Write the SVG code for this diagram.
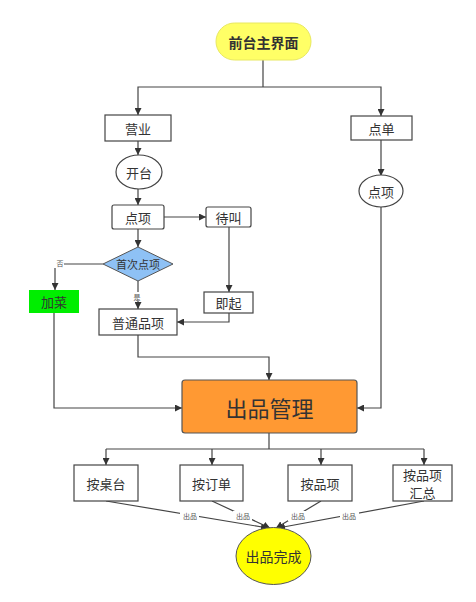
<svg xmlns="http://www.w3.org/2000/svg" width="476" height="602" viewBox="0 0 476 602">
<defs>
<marker id="arr" viewBox="0 0 10 10" refX="10" refY="5" markerWidth="7" markerHeight="7" orient="auto" markerUnits="userSpaceOnUse"><path d="M0,0 L10,5 L0,10 z" fill="#333"/></marker>
<style>
.box{fill:#fff;stroke:#444;stroke-width:1.2}
.t{font-family:"Noto Sans CJK SC","Noto Sans CJK JP",sans-serif;font-size:13px;fill:#333;text-anchor:middle;dominant-baseline:central}
.s{font-family:"Noto Sans CJK SC",sans-serif;font-size:7px;fill:#555;text-anchor:middle;dominant-baseline:central}
.c{fill:none;stroke:#444;stroke-width:1.2;marker-end:url(#arr)}
.n{fill:none;stroke:#444;stroke-width:1.2}
</style>
</defs>
<rect width="476" height="602" fill="#fff"/>
<g id="connectors">
<path class="n" d="M263,60 V87"/>
<path class="c" d="M263,87 H138 V115"/>
<path class="c" d="M263,87 H381 V116"/>
<path class="c" d="M138,141 V155"/>
<path class="c" d="M138,189 V205"/>
<path class="c" d="M164,217 H206"/>
<path class="c" d="M138,229 V247"/>
<path class="c" d="M103,264 H55 V290"/>
<path class="c" d="M138,281 V309"/>
<path class="c" d="M229,227 V292"/>
<path class="c" d="M229,313 V322 H177"/>
<path class="c" d="M381,140 V176"/>
<path class="c" d="M381,207 V408 H357"/>
<path class="c" d="M54,313 V408 H182"/>
<path class="c" d="M138,335 V357 H269 V380"/>
<path class="n" d="M269,433 V449"/>
<path class="n" d="M106,449 H424"/>
<path class="c" d="M106,449 V465"/>
<path class="c" d="M212,449 V465"/>
<path class="c" d="M321,449 V465"/>
<path class="c" d="M424,449 V465"/>
<path class="c" d="M106,501 L268,528"/>
<path class="c" d="M212,501 L270,528"/>
<path class="c" d="M321,501 L276,528"/>
<path class="c" d="M424,501 L278,528"/>
<rect x="54" y="259" width="10" height="9" fill="#fff"/>
<text class="s" x="60" y="263">否</text>
<rect x="132" y="292" width="10" height="9" fill="#fff"/>
<text class="s" x="137" y="297">是</text>
<g fill="#fff">
<rect x="180" y="511" width="19" height="10"/>
<rect x="233" y="511" width="19" height="10"/>
<rect x="288" y="511" width="19" height="10"/>
<rect x="340" y="511" width="19" height="10"/>
</g>
<text class="s" x="190" y="516">出品</text>
<text class="s" x="243" y="516">出品</text>
<text class="s" x="298" y="516">出品</text>
<text class="s" x="349" y="516">出品</text>
</g>
<g id="main"><rect x="216" y="23" width="95" height="37" rx="18.5" fill="#ffff66" stroke="#e8e860" stroke-width="1"/><text class="t" x="263.5" y="41.5" style="font-size:14px;font-weight:bold">前台主界面</text></g>
<g id="yingye"><rect class="box" x="105" y="115" width="66" height="26"/><text class="t" x="138" y="128">营业</text></g>
<g id="kaitai"><ellipse class="box" cx="139" cy="172" rx="23" ry="17"/><text class="t" x="139" y="172">开台</text></g>
<g id="dianxiang"><rect class="box" x="112" y="205" width="52" height="24" rx="2"/><text class="t" x="138" y="217">点项</text></g>
<g id="daijiao"><rect class="box" x="206" y="207" width="45" height="20" rx="2"/><text class="t" x="228.5" y="217">待叫</text></g>
<g id="shouci"><path d="M138,247 L173,264 L138,281 L103,264 Z" fill="#8ec1f5" stroke="#555" stroke-width="1"/><text class="t" x="138" y="264" style="font-size:11px">首次点项</text></g>
<g id="jiacai"><rect x="29" y="290" width="50" height="23" fill="#00ee00"/><text class="t" x="54" y="301.5">加菜</text></g>
<g id="jiqi"><rect class="box" x="204" y="292" width="49" height="21"/><text class="t" x="228.5" y="302.5">即起</text></g>
<g id="putong"><rect class="box" x="99" y="309" width="78" height="26"/><text class="t" x="138" y="322">普通品项</text></g>
<g id="diandan"><rect class="box" x="351" y="116" width="61" height="24"/><text class="t" x="381.5" y="128">点单</text></g>
<g id="dianxiang2"><ellipse class="box" cx="381" cy="191" rx="22" ry="16"/><text class="t" x="381" y="191">点项</text></g>
<g id="chupin"><rect x="182" y="380" width="175" height="53" rx="3" fill="#ff9933" stroke="#555" stroke-width="1.2"/><text class="t" x="269.5" y="406.5" style="font-size:22px">出品管理</text></g>
<g id="zhuotai"><rect class="box" x="74" y="465" width="64" height="36"/><text class="t" x="106" y="483">按桌台</text></g>
<g id="dingdan"><rect class="box" x="180" y="465" width="63" height="36"/><text class="t" x="211.5" y="483">按订单</text></g>
<g id="pinxiang"><rect class="box" x="288" y="465" width="64" height="36"/><text class="t" x="320" y="483">按品项</text></g>
<g id="huizong"><rect class="box" x="393" y="465" width="59" height="36"/><text class="t" x="422.5" y="474">按品项</text><text class="t" x="422.5" y="492">汇总</text></g>
<g id="wancheng"><ellipse cx="273.5" cy="556" rx="37.5" ry="28.5" fill="#ffff00" stroke="#555" stroke-width="1"/><text class="t" x="273.5" y="556" style="font-size:14px">出品完成</text></g>
</svg>
